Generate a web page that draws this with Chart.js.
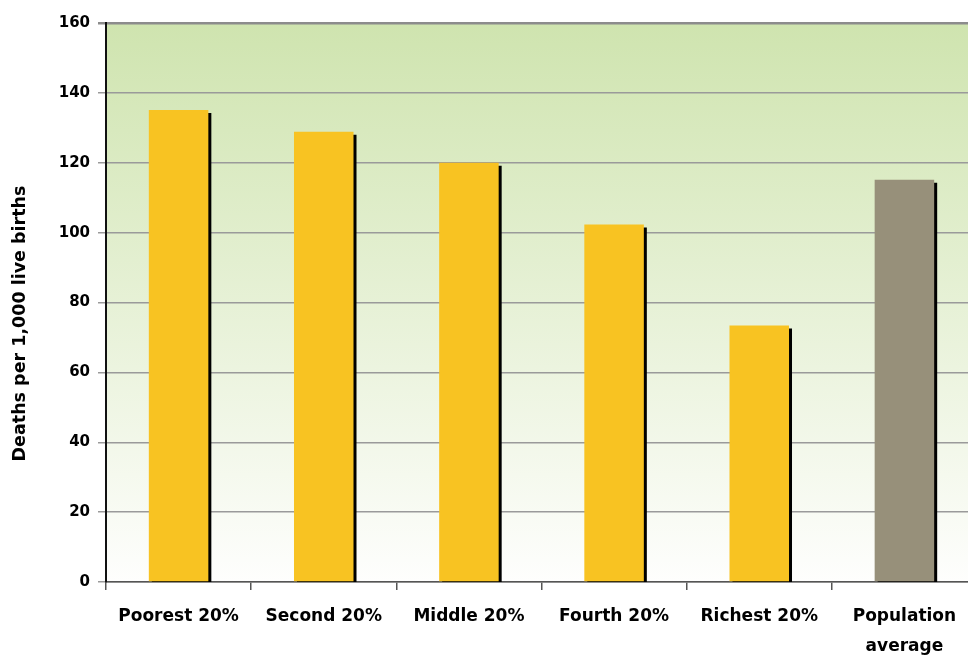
<!DOCTYPE html>
<html>
<head>
<meta charset="utf-8">
<script src="https://cdn.jsdelivr.net/npm/chart.js@4"></script>
<style>
  html, body { margin: 0; padding: 0; background: #fff; overflow: hidden; }
  #wrap { width: 980px; height: 655px; }
</style>
</head>
<body>
<div id="wrap"><canvas id="mortalityChart"></canvas></div>
<script>
// under-5 mortality by wealth quintile
const categories = ['Poorest 20%', 'Second 20%', 'Middle 20%', 'Fourth 20%', 'Richest 20%', ['Population', 'average']];
const deathsPer1000 = [135.1, 128.9, 120.0, 102.3, 73.4, 115.1];
const barColors = ['#f8c322', '#f8c322', '#f8c322', '#f8c322', '#f8c322', '#97907a'];
const yTicks = [0, 20, 40, 60, 80, 100, 120, 140, 160];
const yTitle = 'Deaths per 1,000 live births';

const FONT = "'DejaVu Sans', sans-serif";

// green fade behind the plot
const plotBackground = {
    id: 'plotBackground',
    beforeDraw(chart) {
        const { ctx, chartArea: a } = chart;
        const g = ctx.createLinearGradient(0, a.top, 0, a.bottom);
        g.addColorStop(0, '#cfe4af');
        g.addColorStop(1, '#fefefd');
        ctx.save();
        ctx.fillStyle = g;
        ctx.fillRect(a.left, a.top, a.right - a.left, a.bottom - a.top);
        ctx.restore();
    }
};

// hard black drop shadow on each bar
const barShadow = {
    id: 'barShadow',
    beforeDatasetsDraw(chart) {
        const ctx = chart.ctx;
        ctx.save();
        ctx.shadowColor = '#000';
        ctx.shadowBlur = 0;
        ctx.shadowOffsetX = 3;
        ctx.shadowOffsetY = 3;
    },
    afterDatasetsDraw(chart) {
        chart.ctx.restore();
    }
};

// rotated y title, sitting a bit below the plot's middle
const yAxisTitle = {
    id: 'yAxisTitle',
    afterDraw(chart) {
        const { ctx, chartArea: a } = chart;
        ctx.save();
        ctx.translate(20, (a.top + a.bottom) / 2 + 21);
        ctx.rotate(-Math.PI / 2);
        ctx.font = `bold 17.5px ${FONT}`;
        ctx.fillStyle = '#000';
        ctx.textAlign = 'center';
        ctx.textBaseline = 'middle';
        ctx.fillText(yTitle, 0, 0);
        ctx.restore();
    }
};

new Chart(document.getElementById('mortalityChart'), {
    type: 'bar',
    data: {
        labels: categories,
        datasets: [{
            data: deathsPer1000,
            backgroundColor: barColors,
            borderWidth: 0,
            categoryPercentage: 1,
            barPercentage: 0.41
        }]
    },
    options: {
        responsive: true,
        maintainAspectRatio: false,
        animation: false,
        layout: { padding: { top: 23, left: 0, right: 3, bottom: 0 } },
        plugins: { legend: { display: false }, tooltip: { enabled: false } },
        scales: {
            x: {
                offset: true,
                grid: { offset: true, drawOnChartArea: false, drawTicks: true, tickLength: 8, color: '#555', lineWidth: 1.5 },
                border: { color: '#555', width: 1.5 },
                ticks: {
                    color: '#000',
                    font: { family: FONT, size: 17, weight: 'bold', lineHeight: 1.75 },
                    padding: 12,
                    maxRotation: 0,
                    autoSkip: false
                },
                afterFit(scale) { scale.height = 73; }
            },
            y: {
                min: 0,
                max: 160,
                afterBuildTicks(scale) { scale.ticks = yTicks.map(v => ({ value: v })); },
                grid: {
                    color: ctx => ctx.tick && ctx.tick.value === 160 ? '#8c8c8c' : '#9a9a9a',
                    lineWidth: ctx => ctx.tick && ctx.tick.value === 160 ? 2.5 : 1.5,
                    tickLength: 8
                },
                border: { color: '#111', width: 2 },
                ticks: {
                    color: '#000',
                    font: { family: FONT, size: 15, weight: 'bold' },
                    padding: 8
                },
                title: { display: false },
                afterFit(scale) { scale.width = 106; }
            }
        }
    },
    plugins: [plotBackground, barShadow, yAxisTitle]
});
</script>
</body>
</html>
